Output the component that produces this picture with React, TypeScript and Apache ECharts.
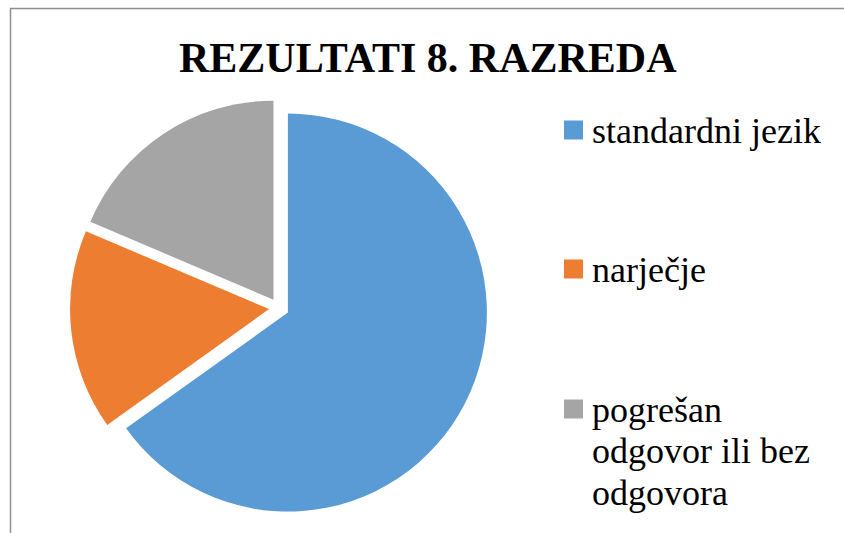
import React, { useEffect, useRef } from "react";
import * as echarts from "echarts";

const categories = ["standardni jezik", "narječje", "pogrešan odgovor ili bez odgovora"];
const values = [28, 7, 8];
const colors = ["#5B9BD5", "#ED7D31", "#A5A5A5"];
const titleText = "REZULTATI 8. RAZREDA";
const legendLines = [["standardni jezik"], ["narječje"], ["pogrešan", "odgovor ili bez", "odgovora"]];

export default function App() {
  const ref = useRef<HTMLDivElement>(null);
  useEffect(() => {
    if (!ref.current) return;
    const chart = echarts.init(ref.current, null, { renderer: "svg" });
    const markerCenters = [130, 269, 409];
    const legendGraphics: any[] = [];
    categories.forEach((name, i) => {
      legendGraphics.push({
        type: "rect",
        shape: { x: 564, y: markerCenters[i] - 9.5, width: 19, height: 19 },
        style: { fill: colors[i] },
      });
      legendLines[i].forEach((line, j) => {
        legendGraphics.push({
          type: "text",
          left: 592,
          top: markerCenters[i] - 17.5 + j * 41.7,
          style: { text: line, font: "36px serif", fill: "#000" },
        });
      });
    });
    chart.setOption({
      animation: false,
      backgroundColor: "#fff",
      graphic: [
        {
          type: "rect",
          shape: { x: 10.5, y: 8.5, width: 1000, height: 1000 },
          style: { fill: "none", stroke: "#8f8f8f", lineWidth: 1.5 },
        },
        {
          type: "text",
          left: 179,
          top: 37,
          style: { text: titleText, font: "bold 42px serif", fill: "#000" },
        },
        ...legendGraphics,
      ],
      series: [
        {
          type: "pie",
          center: [279, 308],
          radius: 199,
          startAngle: 90,
          clockwise: true,
          selectedMode: "multiple",
          selectedOffset: 10,
          label: { show: false },
          labelLine: { show: false },
          emphasis: { disabled: true },
          silent: true,
          itemStyle: { borderWidth: 0 },
          data: categories.map((name, i) => ({
            name,
            value: values[i],
            selected: true,
            itemStyle: { color: colors[i] },
          })),
        },
      ],
    });
    return () => chart.dispose();
  }, []);
  return (
    <div
      ref={ref}
      style={{ position: "absolute", left: 0, top: 0, width: 844, height: 533 }}
    />
  );
}
